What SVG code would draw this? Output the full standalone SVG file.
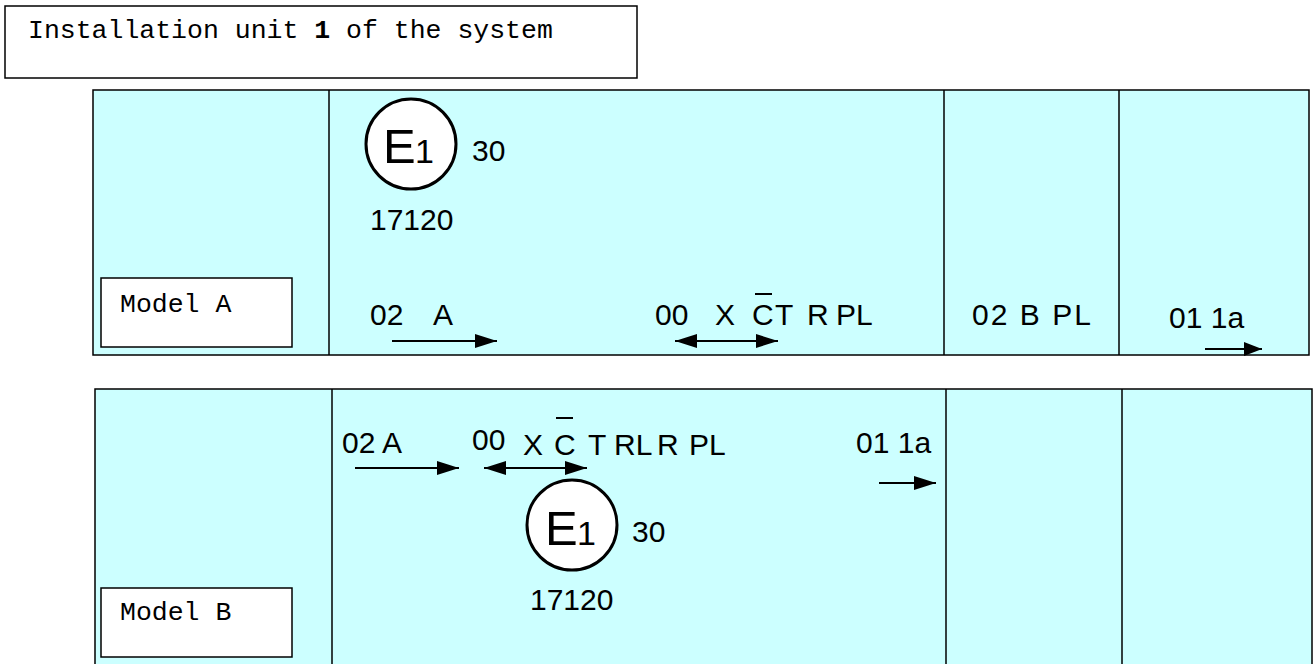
<svg xmlns="http://www.w3.org/2000/svg" width="1316" height="664" viewBox="0 0 1316 664">
<defs>
<style>
.panel{fill:#ccffff;stroke:#000;stroke-width:1.5}
.div{stroke:#000;stroke-width:1.5}
.box{fill:#fff;stroke:#000;stroke-width:1.5}
.mono{font-family:"Liberation Mono","Courier New",monospace;font-size:26.5px;fill:#000}
.sans{font-family:"Liberation Sans",Arial,sans-serif;font-size:30px;fill:#000}
.big{font-family:"Liberation Sans",Arial,sans-serif;font-size:49px;fill:#000}
.bar{stroke:#000;stroke-width:2}
.arr{stroke:#000;stroke-width:2;fill:none}
.seal{fill:#fff;stroke:#000;stroke-width:3}
</style>
<marker id="ah" markerWidth="22" markerHeight="14" refX="22" refY="7" orient="auto" markerUnits="userSpaceOnUse" viewBox="0 0 22 14">
<path d="M0,0 L22,7 L0,14 Z" fill="#000"/>
</marker>
<marker id="ahs" markerWidth="22" markerHeight="14" refX="0" refY="7" orient="auto" markerUnits="userSpaceOnUse" viewBox="0 0 22 14">
<path d="M22,0 L0,7 L22,14 Z" fill="#000"/>
</marker>
<marker id="ahm" markerWidth="18" markerHeight="14" refX="18" refY="7" orient="auto" markerUnits="userSpaceOnUse" viewBox="0 0 18 14">
<path d="M0,0 L18,7 L0,14 Z" fill="#000"/>
</marker>
</defs>
<g id="title">
<rect class="box" x="5" y="6" width="632" height="72"/>
<text class="mono" x="28" y="38">Installation unit <tspan font-weight="bold">1</tspan> of the system</text>
</g>
<g id="modelA">
<rect class="panel" x="93" y="90" width="1216" height="265"/>
<line class="div" x1="329" y1="90" x2="329" y2="355"/>
<line class="div" x1="944" y1="90" x2="944" y2="355"/>
<line class="div" x1="1119" y1="90" x2="1119" y2="355"/>
<rect class="box" x="101" y="278" width="191" height="69"/>
<text class="mono" x="120" y="312">Model A</text>
<circle class="seal" cx="411" cy="144" r="45"/>
<text class="big" x="383" y="163">E<tspan x="415" font-size="34">1</tspan></text>
<text class="sans" x="472" y="161">30</text>
<text class="sans" x="370" y="230">17120</text>
<text class="sans" x="370" y="325">02<tspan x="433">A</tspan></text>
<text class="sans" x="655" y="325">00<tspan x="715">X</tspan><tspan x="752">C</tspan><tspan x="775">T</tspan><tspan x="807">R</tspan><tspan x="836">PL</tspan></text>
<line class="bar" x1="755" y1="294" x2="772" y2="294"/>
<text class="sans" x="972" y="325" textLength="119">02 B PL</text>
<text class="sans" x="1169" y="328" font-size="26">01 1a</text>
</g>
<g id="modelB">
<rect class="panel" x="95" y="389" width="1217" height="290"/>
<line class="div" x1="332" y1="389" x2="332" y2="670"/>
<line class="div" x1="946" y1="389" x2="946" y2="670"/>
<line class="div" x1="1122" y1="389" x2="1122" y2="670"/>
<rect class="box" x="101" y="588" width="191" height="69"/>
<text class="mono" x="120" y="620">Model B</text>
<circle class="seal" cx="572" cy="525" r="45"/>
<text class="big" x="545" y="545">E<tspan x="577" font-size="34">1</tspan></text>
<text class="sans" x="632" y="542">30</text>
<text class="sans" x="530" y="610">17120</text>
<text class="sans" x="342" y="453">02 A</text>
<text class="sans" x="472" y="450">00</text>
<text class="sans" x="523" y="455">X<tspan x="554">C</tspan><tspan x="588">T</tspan><tspan x="614">RL</tspan><tspan x="657">R</tspan><tspan x="689">PL</tspan></text>
<line class="bar" x1="556" y1="418" x2="573" y2="418"/>
<text class="sans" x="856" y="453">01 1a</text>
</g>
<g id="connectors">
<line class="arr" x1="392" y1="341" x2="497" y2="341" marker-end="url(#ah)"/>
<line class="arr" x1="675" y1="341" x2="778" y2="341" marker-start="url(#ahs)" marker-end="url(#ah)"/>
<line class="arr" x1="1205" y1="349" x2="1262" y2="349" marker-end="url(#ahm)"/>
<line class="arr" x1="355" y1="468" x2="459" y2="468" marker-end="url(#ah)"/>
<line class="arr" x1="484" y1="468" x2="587" y2="468" marker-start="url(#ahs)" marker-end="url(#ah)"/>
<line class="arr" x1="879" y1="483" x2="936" y2="483" marker-end="url(#ah)"/>
</g>
</svg>
